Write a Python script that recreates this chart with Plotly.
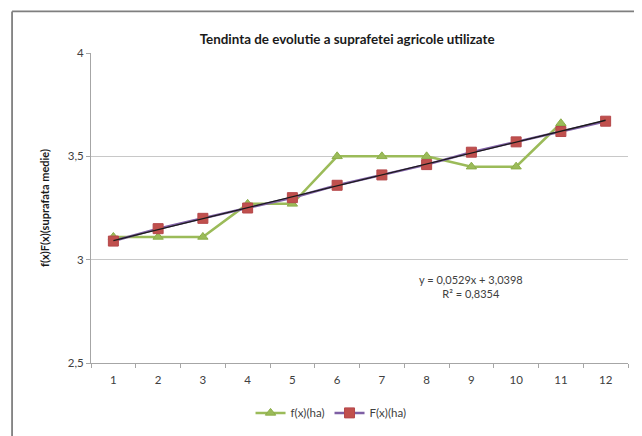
import plotly.graph_objects as go

# ---- data ----
x_f = [1, 2, 3, 4, 5, 6, 7, 8, 9, 10, 11]
f_values = [3.11, 3.11, 3.11, 3.27, 3.27, 3.50, 3.50, 3.50, 3.45, 3.45, 3.66]
x_F = [1, 2, 3, 4, 5, 6, 7, 8, 9, 10, 11, 12]
F_values = [3.09, 3.15, 3.20, 3.25, 3.30, 3.36, 3.41, 3.46, 3.52, 3.57, 3.62, 3.67]
trend_slope = 0.0529
trend_intercept = 3.0398
trend_label = "y = 0,0529x + 3,0398<br>R² = 0,8354"
x_tick_labels = ["1", "2", "3", "4", "5", "6", "7", "8", "9", "10", "11", "12"]
y_tick_vals = [2.5, 3, 3.5, 4]
y_tick_text = ["2,5", "3", "3,5", "4"]
title_text = "Tendinta de evolutie a suprafetei agricole utilizate"
y_title = "f(x)F(x)(suprafata medie)"

trend_y = [trend_intercept + trend_slope * v for v in x_F]

FONT = "Lato, Carlito, 'Open Sans', sans-serif"

fig = go.Figure()
fig.add_trace(go.Scatter(
    x=x_f, y=f_values, name="f(x)(ha)", mode="lines+markers",
    line=dict(color="#9BBB59", width=2.5),
    marker=dict(symbol="triangle-up", size=9, color="#9BBB59",
                line=dict(color="#8CAE4A", width=1)),
))
fig.add_trace(go.Scatter(
    x=x_F, y=F_values, name="F(x)(ha)", mode="lines+markers",
    line=dict(color="#7E5FA4", width=2.5),
    marker=dict(symbol="square", size=10, color="#C0504D",
                line=dict(color="#B5474A", width=1)),
))
fig.add_trace(go.Scatter(
    x=x_F, y=trend_y, mode="lines", showlegend=False, hoverinfo="skip",
    line=dict(color="#1A1A1A", width=1.3),
))

# figure is offset 8px by the page margin: size and margins compensate
fig.update_layout(
    width=634, height=428,
    margin=dict(l=83, r=14, t=45, b=73, autoexpand=False),
    paper_bgcolor="white", plot_bgcolor="white",
    font=dict(family=FONT, size=11, color="#404040"),
    title=dict(text="<b>" + title_text + "</b>", x=0.477, xref="paper",
               xanchor="center", y=0.928, yanchor="middle",
               font=dict(size=13.4, color="#1a1a1a", family=FONT)),
    showlegend=True,
    legend=dict(orientation="h", x=0.447, xanchor="center",
                yref="container", y=0.054, yanchor="middle",
                font=dict(size=11.5, color="#404040"),
                itemwidth=30, tracegroupgap=0),
    xaxis=dict(
        range=[0.5, 12.5], tickmode="array", tickvals=x_F, ticktext=x_tick_labels,
        ticks="", showgrid=False, showline=True, linecolor="#A6A6A6", linewidth=1,
        zeroline=False, ticklabelstandoff=6,
        minor=dict(tickmode="linear", tick0=0.5, dtick=1, ticks="outside",
                   ticklen=4, tickcolor="#A6A6A6", showgrid=False),
        tickfont=dict(size=11.5, color="#404040"),
    ),
    yaxis=dict(
        range=[2.5, 4], tickmode="array", tickvals=y_tick_vals, ticktext=y_tick_text,
        ticks="outside", ticklen=4, tickcolor="#A6A6A6",
        showgrid=True, gridcolor="#C8C8C8", gridwidth=1,
        showline=True, linecolor="#A6A6A6", linewidth=1, zeroline=False,
        tickfont=dict(size=11.5, color="#404040"),
        title=dict(text="<b>" + y_title + "</b>", standoff=15,
                   font=dict(size=11, color="#1a1a1a")),
    ),
)

fig.add_annotation(
    x=9.0, y=2.869, xref="x", yref="y", text=trend_label, showarrow=False,
    align="center", font=dict(size=11, color="#404040"),
    xanchor="center", yanchor="middle",
)

# outer chart border (left, top, right edges)
fig.add_shape(type="line", xref="paper", yref="paper",
              x0=-0.147, x1=-0.147, y0=-0.26, y1=1.134,
              line=dict(color="#7F7F7F", width=1.8), layer="above")
fig.add_shape(type="line", xref="paper", yref="paper",
              x0=-0.147, x1=1.022, y0=1.134, y1=1.134,
              line=dict(color="#7F7F7F", width=1.8), layer="above")
fig.add_shape(type="line", xref="paper", yref="paper",
              x0=1.022, x1=1.022, y0=-0.26, y1=1.134,
              line=dict(color="#D0D0D0", width=1.2), layer="above")

fig.write_html("out.html")
